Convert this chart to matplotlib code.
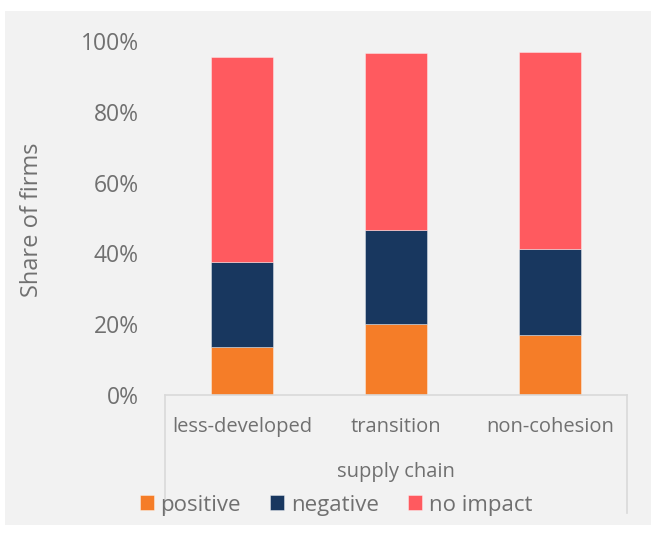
import matplotlib
matplotlib.use("Agg")
import matplotlib.pyplot as plt
from matplotlib.patches import Rectangle
from matplotlib.ticker import PercentFormatter

categories = ["less-developed", "transition", "non-cohesion"]
positive = [13.6, 20.1, 16.9]
negative = [24.1, 26.4, 24.3]
no_impact = [57.7, 50.2, 55.7]
y_ticks = [0, 20, 40, 60, 80, 100]

plt.rcParams["font.family"] = ["Open Sans", "DejaVu Sans"]
text_col = "#707070"
line_col = "#d9d9d9"

fig = plt.figure(figsize=(6.51, 5.36), dpi=100)
fig.patch.set_facecolor("white")
fig.patches.append(Rectangle((5 / 651, 1 - 525 / 536), 646 / 651, 514 / 536,
                             transform=fig.transFigure, facecolor="#f2f2f2",
                             edgecolor="none", zorder=-10))

ax = fig.add_axes([165 / 651, 1 - 395 / 536, 462 / 651, 354 / 536])
ax.set_facecolor("none")
ax.set_zorder(2)

x = range(len(categories))
bottom2 = [p + n for p, n in zip(positive, negative)]
kw = dict(width=0.4, edgecolor=(1, 1, 1, 0.45), linewidth=0.6)
ax.bar(x, positive, color="#F57D28", label="positive", **kw)
ax.bar(x, negative, bottom=positive, color="#18375F", label="negative", **kw)
ax.bar(x, no_impact, bottom=bottom2, color="#FF5A5F", label="no impact", **kw)

ax.set_xlim(-0.5, 2.5)
ax.set_ylim(0, 100)
ax.set_yticks(y_ticks)
ax.yaxis.set_major_formatter(PercentFormatter(decimals=0))
ax.tick_params(axis="y", length=0, labelsize=16.5, labelcolor=text_col, pad=19)
ax.tick_params(axis="x", length=0, labelsize=14.5, labelcolor=text_col, pad=16)
ax.set_xticks(list(x))
ax.set_xticklabels(categories)

for side in ["top", "right", "left"]:
    ax.spines[side].set_visible(False)
ax.spines["bottom"].set_color(line_col)
ax.spines["bottom"].set_linewidth(1.2)

# multi-level category box
depth = (513 - 395) / 354
for xx in (0, 1):
    ax.plot([xx, xx], [0, -depth], transform=ax.transAxes, color=line_col,
            lw=1.2, clip_on=False)
ax.text(0.5, -(472 - 395) / 354, "supply chain", transform=ax.transAxes,
        ha="center", va="center", fontsize=14.5, color=text_col)

fig.text(32 / 651, 1 - 220 / 536, "Share of firms", rotation=90, ha="center",
         va="center", fontsize=17, color=text_col)

leg = fig.legend(loc="center", bbox_to_anchor=(336 / 651, 1 - 505 / 536), ncol=3,
                 frameon=False, fontsize=16, handlelength=0.65, handleheight=0.65,
                 handletextpad=0.3, columnspacing=1.3, labelcolor=text_col)

fig.savefig("out.png", dpi=100, facecolor="white")
